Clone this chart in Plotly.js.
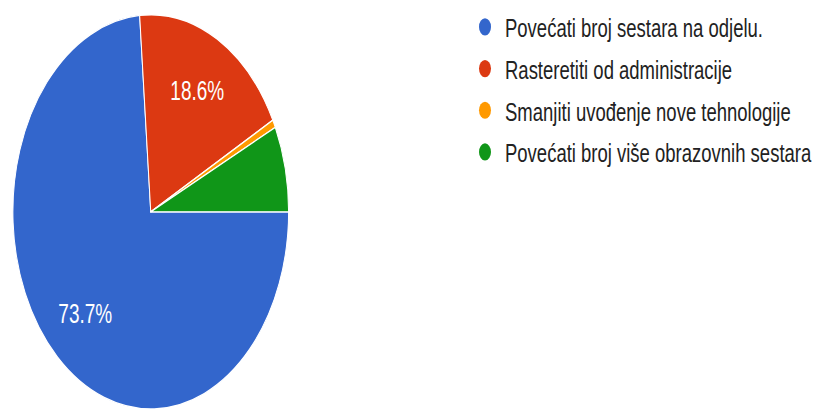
<!DOCTYPE html>
<html><head><meta charset="utf-8">
<script src="https://cdn.plot.ly/plotly-3.0.1.min.js"></script>
<style>
html,body{margin:0;padding:0;background:#fff;width:818px;height:409px;overflow:hidden}
#wrap{position:relative;width:818px;height:409px;overflow:visible}
#chart{position:absolute;left:0;top:0;width:818px;height:286px;transform:scaleY(1.43);transform-origin:0 0}
</style>
</head><body><div id="wrap"><div id="chart"></div></div>
<script>
const categories = [
  'Povećati broj sestara na odjelu.',
  'Rasteretiti od administracije',
  'Smanjiti uvođenje nove tehnologije',
  'Povećati broj više obrazovnih sestara'
];
const counts = [115, 29, 1, 11];
const colors = ['#3366cc', '#dc3912', '#ff9900', '#109618'];
const showPercent = [true, true, false, false];

const FONT = 'Liberation Sans, Arial, sans-serif';
const pieDomain = {x: [12.5/818, 289/818], y: [0, 0.964]};

// slices
const pie = {
  type: 'pie',
  labels: categories,
  values: counts,
  sort: false,
  direction: 'clockwise',
  rotation: 90,
  marker: {colors: colors, line: {color: '#ffffff', width: 1}},
  textinfo: 'none',
  domain: pieDomain,
  showlegend: false,
  hoverinfo: 'label+percent'
};

// percentage labels (same data, transparent ring used only to place text outward like the original)
const pieLabels = {
  type: 'pie',
  labels: categories,
  values: counts,
  sort: false,
  direction: 'clockwise',
  rotation: 90,
  hole: 0.4,
  marker: {colors: categories.map(() => 'rgba(0,0,0,0)'), line: {width: 0}},
  texttemplate: showPercent.map(s => s ? '%{percent:.1%}' : ''),
  textposition: 'inside',
  insidetextorientation: 'horizontal',
  textfont: {color: '#ffffff', size: 19, family: FONT},
  domain: pieDomain,
  showlegend: false,
  hoverinfo: 'skip'
};

const legendTraces = categories.map((name, i) => ({
  type: 'scatter',
  x: [null], y: [null],
  mode: 'markers',
  name: name,
  legendgroup: 'g' + i,
  marker: {color: colors[i], size: 12, symbol: 'circle'},
  hoverinfo: 'skip'
}));

const layout = {
  width: 818, height: 286,
  margin: {l: 0, r: 0, t: 0, b: 0, autoexpand: false},
  paper_bgcolor: '#ffffff',
  plot_bgcolor: '#ffffff',
  showlegend: true,
  legend: {
    x: 465/818, y: 0.999, xanchor: 'left', yanchor: 'top',
    font: {family: FONT, size: 18.5, color: '#222222'},
    tracegroupgap: 2.1,
    bgcolor: 'rgba(0,0,0,0)'
  },
  xaxis: {visible: false},
  yaxis: {visible: false}
};

Plotly.newPlot('chart', [pie, pieLabels].concat(legendTraces), layout, {staticPlot: true});
</script>
</body></html>
